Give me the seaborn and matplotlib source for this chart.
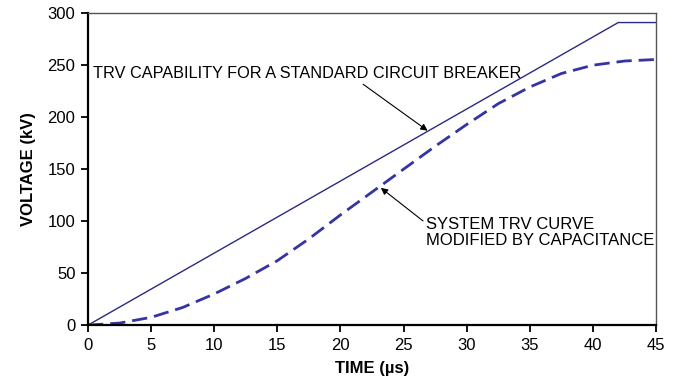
import numpy as np
import pandas as pd
import matplotlib
matplotlib.use("Agg")
import matplotlib.pyplot as plt
import seaborn as sns

# data
cap_time = [0, 42, 45]
cap_kv = [0, 291, 291]

sys_time = [0, 2.5, 5, 7.5, 10, 12.5, 15, 17.5, 20, 22.5, 25, 27.5, 30,
            32.5, 35, 37.5, 40, 42.5, 45]
sys_kv = [0, 2, 7.5, 17, 30, 45, 62, 83, 106, 128, 150, 172, 193,
          213, 229, 242, 250, 254, 255.5]

x_ticks = [0, 5, 10, 15, 20, 25, 30, 35, 40, 45]
y_ticks = [0, 50, 100, 150, 200, 250, 300]

sns.set_style("white")
plt.rcParams['font.family'] = ['Liberation Sans', 'DejaVu Sans']
plt.rcParams['text.color'] = 'black'
plt.rcParams['axes.labelcolor'] = 'black'
plt.rcParams['xtick.color'] = 'black'
plt.rcParams['ytick.color'] = 'black'

fig = plt.figure(figsize=(6.82, 3.88), dpi=100)
ax = fig.add_axes([0.129, 0.162, 0.833, 0.804])

cap_df = pd.DataFrame({"time": cap_time, "kv": cap_kv})
sys_df = pd.DataFrame({"time": sys_time, "kv": sys_kv})

sns.lineplot(data=cap_df, x="time", y="kv", ax=ax, color="#2a2a86", lw=1.0)
sns.lineplot(data=sys_df, x="time", y="kv", ax=ax, color="#3434a4", lw=2.0,
             dashes=False, linestyle=(0, (5.5, 2.5)))

ax.set_xlim(0, 45)
ax.set_ylim(0, 300)
ax.set_xticks(x_ticks)
ax.set_yticks(y_ticks)
ax.tick_params(axis="both", labelsize=12, length=5, width=1.3, direction="out",
               color="black", pad=4)
ax.tick_params(left=True, bottom=True, top=False, right=False)

for s in ["left", "bottom"]:
    ax.spines[s].set_color("black")
    ax.spines[s].set_linewidth(1.6)
for s in ["top", "right"]:
    ax.spines[s].set_color("#555555")
    ax.spines[s].set_linewidth(1.0)

ax.set_xlabel("TIME (µs)", fontsize=12, fontweight="bold", labelpad=6)
ax.set_ylabel("VOLTAGE (kV)", fontsize=12, fontweight="bold", labelpad=8)

ax.annotate("TRV CAPABILITY FOR A STANDARD CIRCUIT BREAKER",
            xy=(26.9, 187), xytext=(0.4, 242), fontsize=11.7,
            ha="left", va="center",
            arrowprops=dict(arrowstyle="-|>", color="black", lw=0.8,
                            shrinkA=0, shrinkB=0,
                            mutation_scale=10,
                            relpos=(0.62, 0.0)))
ax.annotate("SYSTEM TRV CURVE\nMODIFIED BY CAPACITANCE",
            xy=(23.2, 132), xytext=(26.8, 89), fontsize=12,
            ha="left", va="center", linespacing=1.02,
            arrowprops=dict(arrowstyle="-|>", color="black", lw=0.8,
                            shrinkA=0, shrinkB=0,
                            mutation_scale=10,
                            relpos=(0.0, 0.8)))

fig.savefig("out.png", dpi=100)
